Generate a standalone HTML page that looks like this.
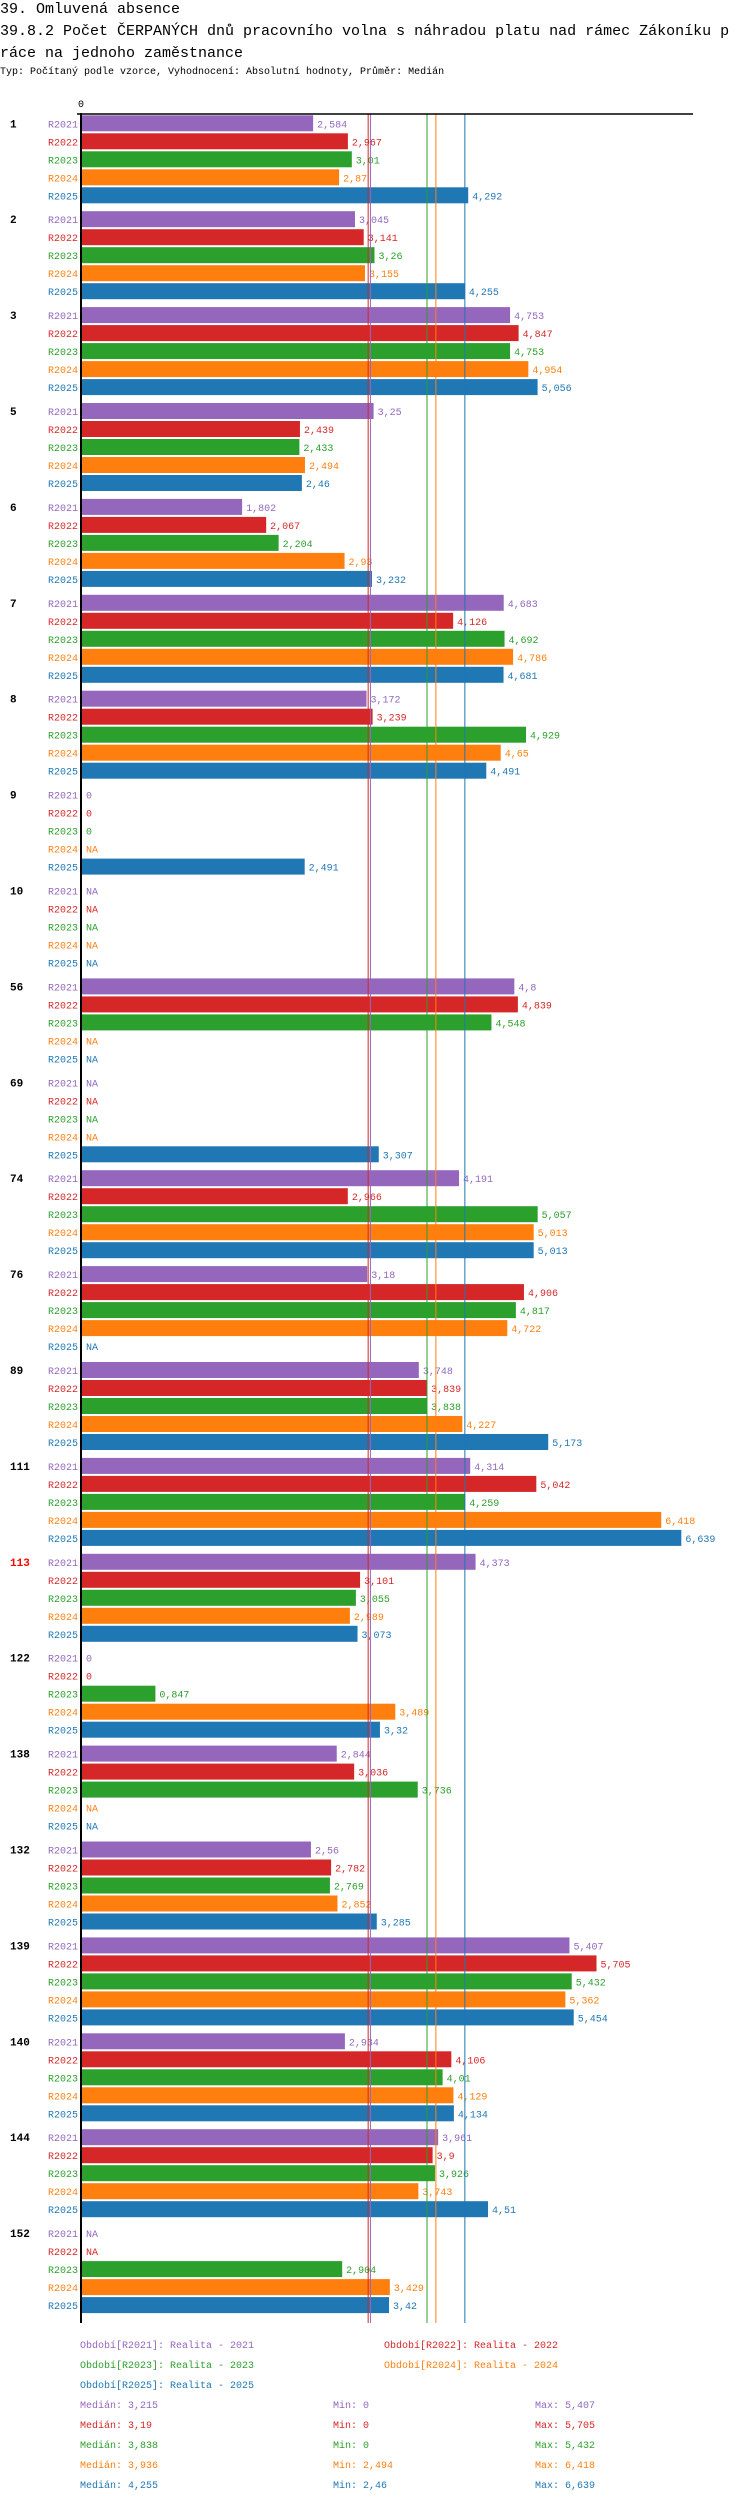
<!DOCTYPE html>
<html><head><meta charset="utf-8">
<style>
body{margin:0;background:#fff;width:750px;height:2502px;overflow:hidden;font-family:"Liberation Mono","DejaVu Sans Mono",monospace;}
.t{position:absolute;left:0;white-space:nowrap;color:#000;}
</style></head>
<body>
<div class="t" style="top:0px;font-size:15px;line-height:20px;">39. Omluvená absence</div>
<div class="t" style="top:21px;font-size:15px;line-height:22px;width:734px;white-space:normal;word-break:break-all;">39.8.2 Počet ČERPANÝCH dnů pracovního volna s náhradou platu nad rámec Zákoníku práce na jednoho zaměstnance</div>
<div class="t" style="top:66px;font-size:10px;line-height:14px;">Typ: Počítaný podle vzorce, Vyhodnocení: Absolutní hodnoty, Průměr: Medián</div>
<svg id="chart" width="750" height="2502" style="position:absolute;left:0;top:0" xmlns="http://www.w3.org/2000/svg"></svg>
<script>
const categories=["1","2","3","5","6","7","8","9","10","56","69","74","76","89","111","113","122","138","132","139","140","144","152"];
const highlighted=["113"];
const seriesNames=["R2021","R2022","R2023","R2024","R2025"];
const seriesLegend=["Období[R2021]: Realita - 2021","Období[R2022]: Realita - 2022","Období[R2023]: Realita - 2023","Období[R2024]: Realita - 2024","Období[R2025]: Realita - 2025"];
const s2021=[2.584,3.045,4.753,3.25,1.802,4.683,3.172,0,null,4.8,null,4.191,3.18,3.748,4.314,4.373,0,2.844,2.56,5.407,2.934,3.961,null];
const s2022=[2.967,3.141,4.847,2.439,2.067,4.126,3.239,0,null,4.839,null,2.966,4.906,3.839,5.042,3.101,0,3.036,2.782,5.705,4.106,3.9,null];
const s2023=[3.01,3.26,4.753,2.433,2.204,4.692,4.929,0,null,4.548,null,5.057,4.817,3.838,4.259,3.055,0.847,3.736,2.769,5.432,4.01,3.926,2.904];
const s2024=[2.87,3.155,4.954,2.494,2.93,4.786,4.65,null,null,null,null,5.013,4.722,4.227,6.418,2.989,3.489,null,2.852,5.362,4.129,3.743,3.429];
const s2025=[4.292,4.255,5.056,2.46,3.232,4.681,4.491,2.491,null,null,3.307,5.013,null,5.173,6.639,3.073,3.32,null,3.285,5.454,4.134,4.51,3.42];
const medians=[3.215,3.19,3.838,3.936,4.255];
const mins=[0,0,0,2.494,2.46];
const maxs=[5.407,5.705,5.432,6.418,6.639];
const series=[s2021,s2022,s2023,s2024,s2025];
const colors=["#9467bd","#d62728","#2ca02c","#ff7f0e","#1f77b4"];
const NS="http://www.w3.org/2000/svg";
const svg=document.getElementById('chart');
const X0=81, XORIG=78.5, PX=90.8, TOP=115.3, GP=95.9, BP=18, BH=16, AXTOP=114, AXBOT=2323;
const xs=v=>XORIG+v*PX;
const fmt=v=>String(v).replace('.',',');
function mk(tag,attrs,txt){const e=document.createElementNS(NS,tag);for(const k in attrs)e.setAttribute(k,attrs[k]);if(txt!==undefined)e.textContent=txt;svg.appendChild(e);return e;}
categories.forEach((c,i)=>{
  const gy=TOP+i*GP;
  const gl=mk('text',{x:10,y:gy+BH/2+4,'font-size':11,'font-weight':'bold','font-family':'Liberation Mono, monospace',fill:highlighted.includes(c)?'#ff0000':'#000'},c);
  
  
  series.forEach((s,j)=>{
    const y=gy+j*BP, v=s[i];
    const sl=mk('text',{x:78,y:y+BH/2+4,'font-size':10,'text-anchor':'end','font-family':'Liberation Mono, monospace',fill:colors[j]},seriesNames[j]);
    
    
    let tx=X0+5;
    if(v!==null&&v>0){
      const r=mk('rect',{x:X0,y:y,width:Math.max(0,xs(v)-X0),height:BH,fill:colors[j]});
      
      
      tx=xs(v)+4;
    }
    const vl=mk('text',{x:tx,y:y+BH/2+4,'font-size':10,'font-family':'Liberation Mono, monospace',fill:colors[j]},v===null?'NA':fmt(v));
    
    
  });
});
medians.forEach((m,j)=>{
  const l=mk('line',{x1:xs(m),x2:xs(m),y1:AXTOP,y2:AXBOT,stroke:colors[j],'stroke-width':1});
  
  
});
const ya=mk('line',{x1:X0,x2:X0,y1:AXTOP-1,y2:AXBOT,stroke:'#000','stroke-width':2});


const xa=mk('line',{x1:X0-4,x2:693,y1:AXTOP,y2:AXTOP,stroke:'#000','stroke-width':1.5});


const t0=mk('text',{x:X0,y:107,'font-size':10,'text-anchor':'middle','font-family':'Liberation Mono, monospace',fill:'#000'},'0');


const legPos=[[80,2348],[384,2348],[80,2368],[384,2368],[80,2388]];
seriesLegend.forEach((t,j)=>{
  const e=mk('text',{x:legPos[j][0],y:legPos[j][1],'font-size':10,'font-family':'Liberation Mono, monospace',fill:colors[j]},t);
  
  
});
medians.forEach((m,j)=>{
  const y=2408+j*20;
  const a=mk('text',{x:80,y:y,'font-size':10,'font-family':'Liberation Mono, monospace',fill:colors[j]},'Medián: '+fmt(m));
  
  
  const b=mk('text',{x:333,y:y,'font-size':10,'font-family':'Liberation Mono, monospace',fill:colors[j]},'Min: '+fmt(mins[j]));
  
  
  const c=mk('text',{x:535,y:y,'font-size':10,'font-family':'Liberation Mono, monospace',fill:colors[j]},'Max: '+fmt(maxs[j]));
  
  
});
</script>
</body></html>
